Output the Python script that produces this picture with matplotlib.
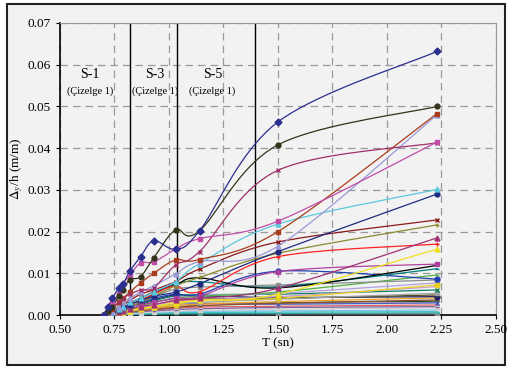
import numpy as np
import matplotlib
matplotlib.use("Agg")
import matplotlib.pyplot as plt
from matplotlib.patches import Rectangle

plt.rcParams['font.family'] = ['Liberation Serif', 'DejaVu Serif']
plt.rcParams['mathtext.fontset'] = 'stix'

# periods (s) where the drift values were computed
T = [0.70, 0.72, 0.74, 0.77, 0.79, 0.82, 0.87, 0.93, 1.03, 1.14, 1.50, 2.23]

# drift ratios x1000 (m/m), one list per record
s01 = [0, 2.0, 4.0, 6.5, 7.5, 10.5, 14.0, 17.8, 15.8, 20.2, 46.3, 63.2]
s02 = [0, 1.0, 2.0, 4.5, 6.0, 8.5, 9.2, 13.7, 20.4, 20.2, 40.8, 50.0]
s03 = [0, 1.5, 3.0, 5.0, 7.5, 9.5, 12.5, 12.7, 15.8, 18.3, 22.5, 41.5]
s04 = [0, 1.0, 2.0, 3.0, 4.0, 5.0, 6.0, 6.5, 12.0, 15.2, 34.7, 41.3]
s05 = [0, 0.8, 1.5, 3.0, 4.0, 5.5, 7.7, 10.0, 13.2, 13.3, 20.0, 48.3]
s06 = [0, 0.5, 1.0, 2.0, 3.0, 4.0, 5.5, 7.0, 9.8, 12.8, 16.5, 48.0]
s07 = [0, 0.4, 0.8, 1.5, 2.0, 3.0, 4.0, 5.5, 8.0, 12.3, 21.8, 30.1]
s08 = [0, 0.3, 0.6, 1.2, 1.8, 2.5, 3.5, 4.5, 5.5, 7.5, 15.2, 29.0]
s09 = [0, 0.5, 1.0, 2.0, 2.5, 3.5, 5.0, 6.0, 8.0, 11.0, 17.5, 22.8]
s10 = [0, 0.3, 0.6, 1.0, 1.5, 2.0, 3.0, 4.5, 7.0, 9.0, 14.8, 21.6]
s11 = [0, 0.2, 0.4, 0.8, 1.0, 1.5, 2.0, 2.5, 3.5, 4.0, 6.4, 18.5]
s12 = [0, 0.4, 0.8, 1.5, 2.0, 2.5, 3.5, 5.0, 7.0, 5.6, 14.0, 17.0]
s13 = [0, 0.2, 0.4, 0.6, 0.8, 1.0, 1.5, 2.0, 3.0, 3.5, 5.0, 15.8]
s14 = [0, 0.3, 0.6, 1.0, 1.5, 2.0, 2.5, 3.0, 4.0, 4.5, 10.4, 12.2]
s15 = [0, 0.5, 1.0, 1.5, 2.0, 3.0, 4.0, 5.5, 7.2, 8.9, 6.5, 11.9]
s16 = [0, 0.4, 0.8, 1.3, 1.8, 2.5, 3.5, 5.0, 7.5, 8.0, 6.8, 11.1]
s17 = [0, 0.3, 0.6, 1.0, 1.5, 2.0, 3.0, 4.0, 5.0, 5.0, 10.5, 8.6]
s18 = [0, 0.3, 0.6, 1.0, 1.5, 2.5, 3.5, 4.5, 6.2, 6.7, 7.2, 8.4]
s19 = [0, 0.2, 0.4, 0.8, 1.0, 1.5, 2.0, 3.0, 4.0, 4.5, 5.5, 9.6]
s20 = [0, 0.2, 0.4, 0.6, 0.9, 1.2, 1.6, 2.0, 2.5, 3.5, 4.0, 7.2]
s21 = [0, 0.3, 0.5, 0.8, 1.2, 1.6, 2.2, 3.0, 4.2, 4.8, 5.2, 7.7]
s22 = [0, 0.2, 0.4, 0.7, 1.0, 1.4, 1.8, 2.4, 3.2, 3.6, 4.4, 6.8]
s23 = [0, 0.3, 0.6, 1.0, 1.4, 1.9, 2.6, 3.4, 4.6, 4.9, 5.0, 6.0]
s24 = [0, 0.2, 0.3, 0.5, 0.8, 1.0, 1.4, 1.9, 2.6, 3.0, 3.8, 5.2]
s25 = [0, 0.2, 0.4, 0.6, 0.9, 1.3, 1.8, 2.4, 3.4, 3.8, 4.0, 4.8]
s26 = [0, 0.3, 0.6, 1.0, 1.5, 2.0, 2.8, 3.6, 4.8, 4.6, 4.2, 4.4]
s27 = [0, 0.1, 0.3, 0.5, 0.7, 0.9, 1.2, 1.6, 2.2, 2.6, 3.2, 4.1]
s28 = [0, 0.1, 0.2, 0.4, 0.6, 0.8, 1.0, 1.4, 1.8, 2.2, 2.8, 3.6]
s29 = [0, 0.2, 0.4, 0.6, 0.8, 1.1, 1.5, 2.0, 2.6, 2.8, 2.6, 2.9]
s30 = [0, 0.1, 0.2, 0.3, 0.4, 0.6, 0.8, 1.0, 1.3, 1.5, 1.8, 2.0]
s31 = [0, 0.1, 0.1, 0.2, 0.3, 0.4, 0.5, 0.7, 0.9, 1.1, 1.4, 1.7]
s32 = [0, 0.0, 0.1, 0.1, 0.2, 0.2, 0.3, 0.4, 0.5, 0.6, 0.7, 0.8]
s33 = [0, 0.0, 0.0, 0.1, 0.1, 0.1, 0.2, 0.2, 0.3, 0.3, 0.4, 0.5]
s34 = [0, 0.1, 0.3, 0.5, 0.7, 1.0, 1.3, 1.7, 2.2, 2.5, 2.7, 3.0]
s35 = [0, 0.2, 0.3, 0.5, 0.7, 0.9, 1.2, 1.6, 2.1, 2.4, 2.9, 3.3]
s36 = [0, 0.1, 0.2, 0.3, 0.5, 0.7, 0.9, 1.2, 1.6, 1.9, 2.1, 2.4]
s37 = [0, 0.1, 0.1, 0.2, 0.3, 0.4, 0.5, 0.6, 0.8, 0.9, 1.0, 1.2]
s38 = [0, 0.1, 0.2, 0.4, 0.5, 0.7, 1.0, 1.3, 0.6, 0.4, 0.3, 0.3]

series = [s01, s02, s03, s04, s05, s06, s07, s08, s09, s10, s11, s12, s13,
          s14, s15, s16, s17, s18, s19, s20, s21, s22, s23, s24, s25, s26,
          s27, s28, s29, s30, s31, s32, s33, s34, s35, s36, s37, s38]

colors = ['#2b2f8f', '#333319', '#c04ca8', '#a0306a', '#a83c1c', '#9a9ad8',
          '#5bc8e0', '#1f2a80', '#8b1a1a', '#8a8a30', '#a03078', '#ff2020',
          '#f0e020', '#b040a0', '#000000', '#008080', '#2040b0', '#8c8c8c',
          '#50b040', '#e8d020', '#b0a0e0', '#c8a0d0', '#108060', '#a0a0a0',
          '#505020', '#202060', '#f0a020', '#805030', '#4060c0', '#8060a0',
          '#d0d0d0', '#40c0c0', '#20a0a0', '#f0a0c0', '#205020', '#e06060',
          '#80c0f0', '#909090']
markers = ['D', 'o', 's', 'x', 's', '^', '^', 'o', 'x', '+', '^', '+', '^',
           's', '_', '_', 'o', 's', '_', 'o', '_', '_', 'x', 's', '_', 'o',
           '_', '_', 'x', '_', 's', '_', '_', '_', '_', '_', '_', 's']

zone_lines = [0.821, 1.036, 1.394]
zone_names = ['S-1', 'S-3', 'S-5']
zone_x = [0.638, 0.936, 1.20]


def smooth(x, y, n=20):
    # excel style smoothing: bezier with catmull-rom control points
    p = np.column_stack([x, y])
    p = np.vstack([p[0], p, p[-1]])
    out = []
    t = np.linspace(0, 1, n)[:, None]
    for i in range(1, len(p) - 2):
        p0, p1, p2, p3 = p[i - 1], p[i], p[i + 1], p[i + 2]
        c1 = p1 + (p2 - p0) / 6
        c2 = p2 - (p3 - p1) / 6
        seg = ((1 - t) ** 3) * p1 + 3 * ((1 - t) ** 2) * t * c1 + 3 * (1 - t) * t ** 2 * c2 + t ** 3 * p2
        out.append(seg)
    out = np.vstack(out)
    return out[:, 0], out[:, 1]


bg = '#f2f2f2'
fig = plt.figure(figsize=(5.07, 3.67), dpi=100, facecolor='white')
fig.patches.append(Rectangle((7 / 507, 2 / 367), 498 / 507, 361 / 367, transform=fig.transFigure,
                             facecolor=bg, edgecolor='#222222', linewidth=1.5, zorder=-1))
ax = fig.add_axes([60 / 507, 52 / 367, 436 / 507, 292 / 367])
ax.set_facecolor(bg)

for i in range(len(series) - 1, -1, -1):
    y = np.array(series[i]) / 1000.0
    xs, ys = smooth(np.array(T), y)
    ax.plot(xs, ys, color=colors[i], lw=0.9, zorder=3)
    ax.plot(T, y, linestyle='none', marker=markers[i], color=colors[i], ms=3.5, mew=1.0, zorder=4)

for x in zone_lines:
    ax.axvline(x, color='black', lw=1.0, zorder=2)
for name, x in zip(zone_names, zone_x):
    ax.text(x, 0.0576, name, ha='center', va='center', fontsize=10)
    ax.text(x, 0.0537, '(Çizelge 1)', ha='center', va='center', fontsize=7.5)

ax.set_xlim(0.5, 2.5)
ax.set_ylim(0, 0.07)
ax.set_xticks(np.arange(0.5, 2.51, 0.25))
ax.set_yticks(np.arange(0, 0.071, 0.01))
ax.xaxis.set_major_formatter(plt.FormatStrFormatter('%.2f'))
ax.yaxis.set_major_formatter(plt.FormatStrFormatter('%.2f'))
ax.grid(True, color='#9a9a9a', linestyle=(0, (6, 4)), lw=0.9, zorder=1)
ax.set_axisbelow(True)
for s in ['top', 'right']:
    ax.spines[s].set_color('#999999')
for s in ['left', 'bottom']:
    ax.spines[s].set_color('black')
    ax.spines[s].set_linewidth(1.2)
ax.tick_params(direction='out', length=3, labelsize=9.5, colors='black')
ax.set_xlabel('T (sn)', fontsize=9.5, labelpad=1)
ax.set_ylabel(r'$\Delta_y$/h (m/m)', fontsize=9.5, labelpad=2)

fig.savefig('out.png', dpi=100, facecolor=fig.get_facecolor())
